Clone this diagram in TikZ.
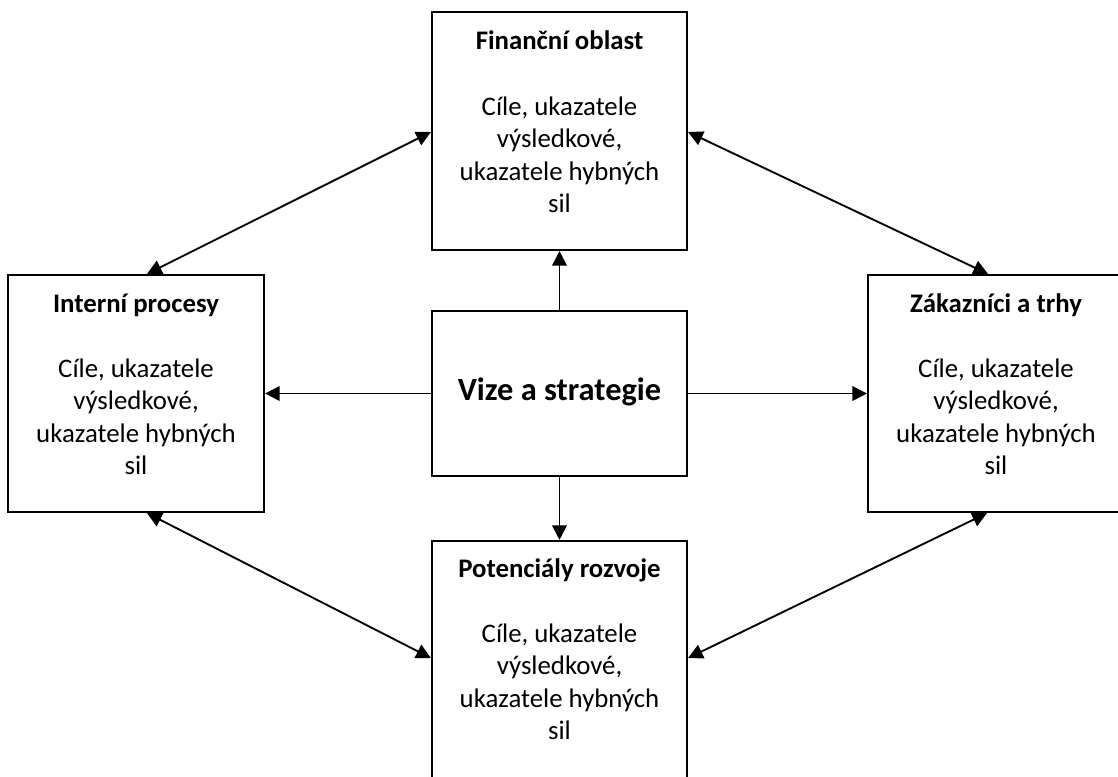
\documentclass[tikz,border=0pt]{standalone}
\usepackage{fontspec}
\setmainfont{Carlito}
\usetikzlibrary{arrows.meta,calc}
\newcommand\bodytxt{\begin{tabular}[t]{@{}c@{}}Cíle, ukazatele\\výsledkové,\\ukazatele hybných\\sil\end{tabular}}
\begin{document}
\begin{tikzpicture}[x=0.75pt,y=-0.75pt,
  box/.style={draw,line width=1.6pt,inner sep=0pt,minimum width=191.25pt,minimum height=178.5pt},
  ttl/.style={anchor=base,inner sep=0pt,font=\bfseries\fontsize{20.1}{24.4}\selectfont},
  bodyt/.style={anchor=base,inner sep=0pt,font=\fontsize{20.1}{24.4}\selectfont},
  big/.style={anchor=base,inner sep=0pt,font=\bfseries\fontsize{24.3}{30}\selectfont},
  arr/.style={line width=1.4pt,-{Triangle[length=11pt,width=11pt]}},
  darr/.style={line width=1.4pt,{Triangle[length=11pt,width=11pt]}-{Triangle[length=11pt,width=11pt]}}]
\path[use as bounding box,clip] (0,0) rectangle (1118,776);
\fill[white] (0,0) rectangle (1118,776);
% boxes
\node[box] (fin) at (559.5,131) {};
\node[box,minimum width=192pt,minimum height=177.75pt] (int) at (136,393.5) {};
\node[box,minimum width=192pt,minimum height=177.75pt] (zak) at (996,393.5) {};
\node[box,minimum height=123.75pt] (viz) at (559.5,393.5) {};
\node[box] (pot) at (559.5,660) {};
% texts
\node[ttl] (fint) at (559.5,49) {Finanční oblast};
\node[bodyt] (finb) at (559.5,115) {\bodytxt};
\node[ttl] (intt) at (136,312) {Interní procesy};
\node[bodyt] (intb) at (136,377) {\bodytxt};
\node[ttl] (zakt) at (996,312) {Zákazníci a trhy};
\node[bodyt] (zakb) at (996,377) {\bodytxt};
\node[ttl] (pott) at (559.5,577) {Potenciály rozvoje};
\node[bodyt] (potb) at (559.5,642) {\bodytxt};
\node[big] (vizt) at (559.5,400) {Vize a strategie};
% connectors
\draw[arr] (viz.north) -- (fin.south);
\draw[arr] (viz.west) -- (int.east);
\draw[arr] (viz.east) -- (zak.west);
\draw[arr] (viz.south) -- (pot.north);
\draw[darr] ($(fin.west)+(0,1)$) -- ($(int.north)+(11,0)$);
\draw[darr] ($(fin.east)+(0,1)$) -- ($(zak.north)+(-8,0)$);
\draw[darr] ($(int.south)+(11,0)$) -- ($(pot.west)+(0,-2)$);
\draw[darr] ($(zak.south)+(-9,0)$) -- ($(pot.east)+(0,-2)$);
\end{tikzpicture}
\end{document}
